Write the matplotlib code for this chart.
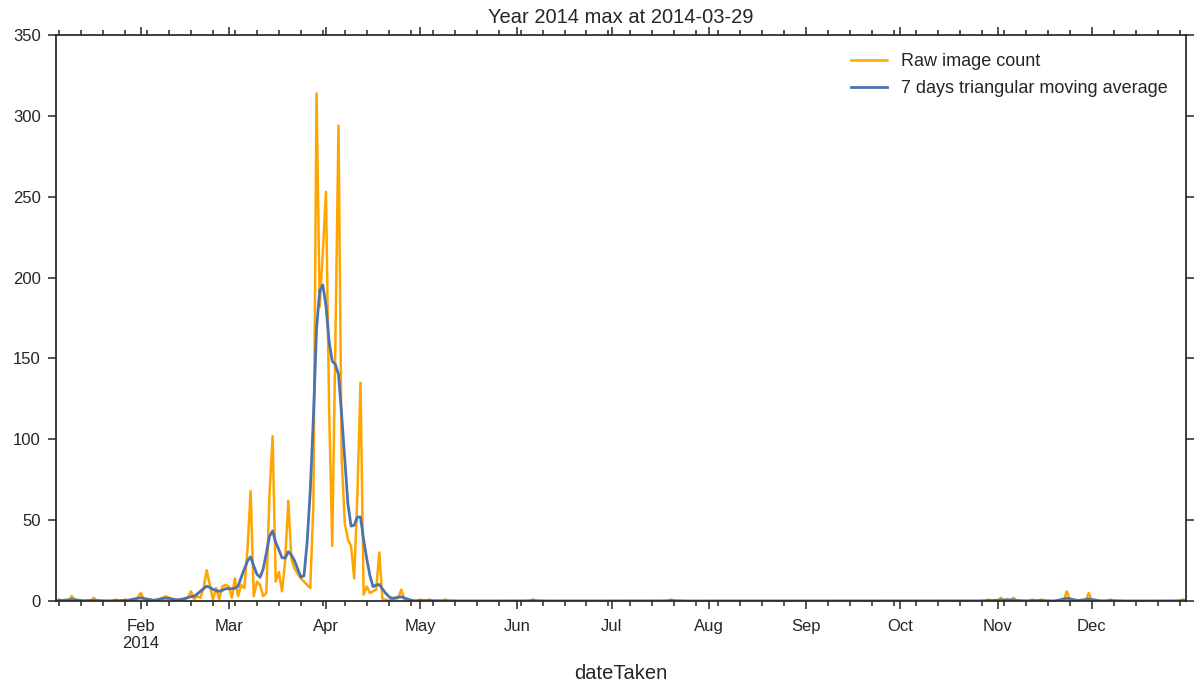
import numpy as np
import pandas as pd
import matplotlib
matplotlib.use("Agg")
import matplotlib.pyplot as plt
import matplotlib.dates as mdates
from matplotlib.ticker import FuncFormatter


FIRST_DAY = "2014-01-05"
LAST_DAY = "2014-12-31"

# Daily image counts for the busy spring stretch, starting at PEAK_START
PEAK_START = "2014-02-15"
peak_counts = [
    1, 2, 6, 1, 3, 2, 8, 19, 10, 1, 8, 1, 9, 10,            # Feb 15 - Feb 28
    9, 2, 14, 3, 10, 8, 32, 68, 3, 12, 10, 3, 5, 65, 102,    # Mar 1 - Mar 15
    12, 18, 6, 25, 62, 26, 20, 17, 14, 12, 10, 8, 60, 314,   # Mar 16 - Mar 29
    182, 215,                                                # Mar 30 - Mar 31
    253, 120, 34, 160, 294, 88, 48, 38, 34, 14, 65, 135, 4,  # Apr 1 - Apr 13
    9, 5, 6, 7, 30, 1, 1, 0, 2, 1, 2, 7, 1, 0, 0, 0, 0,      # Apr 14 - Apr 30
]

# Scattered days outside that stretch with a handful of images
sparse_dates = [
    "2014-01-06", "2014-01-10", "2014-01-11", "2014-01-17", "2014-01-24",
    "2014-01-27", "2014-01-29", "2014-01-31", "2014-02-01", "2014-02-02",
    "2014-02-04", "2014-02-07", "2014-02-08", "2014-02-09", "2014-02-10",
    "2014-02-11", "2014-02-13", "2014-05-01", "2014-05-04", "2014-05-09",
    "2014-06-06", "2014-07-20", "2014-10-29", "2014-11-02", "2014-11-04",
    "2014-11-06", "2014-11-12", "2014-11-15", "2014-11-23", "2014-11-24",
    "2014-11-30", "2014-12-07", "2014-12-30",
]
sparse_counts = [
    1, 3, 1, 2, 1,
    1, 1, 2, 5, 1,
    1, 1, 2, 3, 2,
    1, 1, 1, 1, 1,
    1, 1, 1, 2, 1,
    2, 1, 1, 6, 1,
    5, 1, 1,
]

# scipy's triang(7) window, normalised when applied
TRIANG_WINDOW = [1, 2, 3, 4, 3, 2, 1]


def build_series() -> pd.Series:
    days = pd.date_range(FIRST_DAY, LAST_DAY, freq="D")
    counts = pd.Series(0.0, index=days)
    peak_days = pd.date_range(PEAK_START, periods=len(peak_counts), freq="D")
    counts.loc[peak_days] = peak_counts
    counts.loc[pd.to_datetime(sparse_dates)] = sparse_counts
    return counts


def triangular_average(counts: pd.Series) -> pd.Series:
    weights = np.array(TRIANG_WINDOW, dtype=float)
    weights /= weights.sum()
    smoothed = np.convolve(counts.to_numpy(), weights, mode="same")
    return pd.Series(smoothed, index=counts.index)


def month_label(value, pos):
    date = mdates.num2date(value)
    if date.month == 2:
        return f"{date:%b}\n{date:%Y}"
    return f"{date:%b}"


def main() -> None:
    plt.rcParams["font.family"] = ["Liberation Sans", "DejaVu Sans"]
    counts = build_series()
    smoothed = triangular_average(counts)

    fig = plt.figure(figsize=(11.97, 6.84), dpi=100)
    ax = fig.add_axes([0.0468, 0.1213, 0.944, 0.8275])

    ax.plot(counts.index, counts.values, color="#FFA500", linewidth=1.8,
            label="Raw image count")
    ax.plot(smoothed.index, smoothed.values, color="#4C72B0", linewidth=2.0,
            label="7 days triangular moving average")

    ax.set_xlim(pd.Timestamp(FIRST_DAY), pd.Timestamp(LAST_DAY))
    ax.set_ylim(0, 350)
    ax.set_yticks(np.arange(0, 351, 50))

    ax.xaxis.set_major_locator(mdates.MonthLocator(bymonthday=1))
    ax.xaxis.set_major_formatter(FuncFormatter(month_label))
    ax.xaxis.set_minor_locator(mdates.WeekdayLocator(byweekday=mdates.MO))

    for spine in ax.spines.values():
        spine.set_color("#262626")
        spine.set_linewidth(1.25)
    ax.tick_params(which="both", direction="out", top=True, right=True,
                   color="#262626", width=1.1, labelcolor="#262626",
                   labelsize=12)
    ax.tick_params(which="major", length=6)
    ax.tick_params(which="minor", length=3.5)
    ax.tick_params(axis="x", which="major", pad=7)
    ax.tick_params(axis="y", which="major", pad=5)

    peak_day = counts.idxmax()
    ax.set_title(f"Year {peak_day:%Y} max at {peak_day:%Y-%m-%d}",
                 fontsize=14.5, color="#262626", pad=9)
    ax.set_xlabel("dateTaken", fontsize=14.5, color="#262626", labelpad=9)

    ax.legend(loc="upper right", frameon=False, fontsize=13,
              handlelength=2.0, borderaxespad=0.6, labelspacing=0.55,
              labelcolor="#262626")

    fig.savefig("out.png", dpi=100)
    plt.close(fig)


if __name__ == "__main__":
    main()
